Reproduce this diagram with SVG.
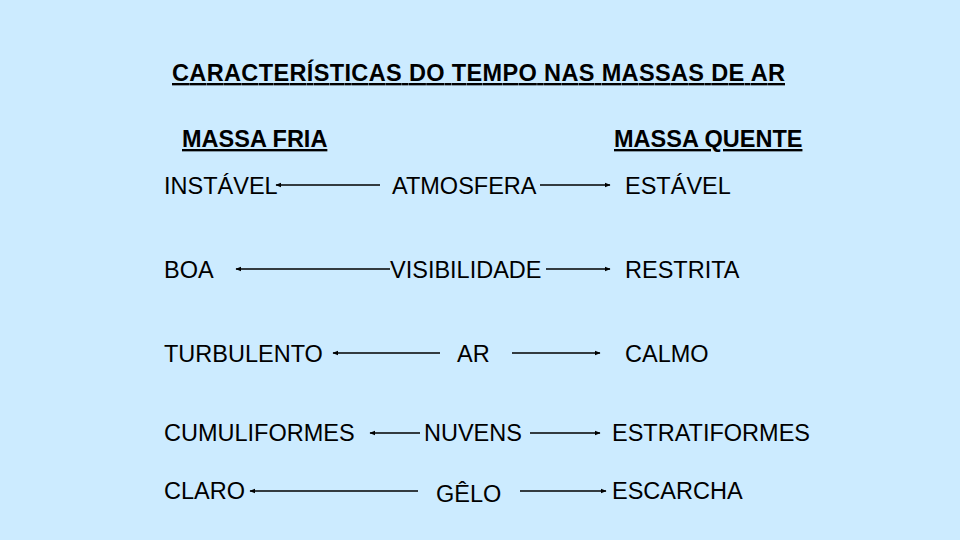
<svg xmlns="http://www.w3.org/2000/svg" width="960" height="540" viewBox="0 0 960 540">
<style>
.t{font-family:"Liberation Sans",Arial,sans-serif;font-size:23.5px;fill:#000}
.h{font-family:"Liberation Sans",Arial,sans-serif;font-size:23.5px;font-weight:bold;fill:#000;text-decoration:underline}
.c{stroke:#000;stroke-width:1.5;fill:none;marker-end:url(#a)}
</style>
<defs><marker id="a" viewBox="0 0 10 10" refX="9" refY="5" markerWidth="4" markerHeight="4" orient="auto"><path d="M0,1L10,5L0,9z" fill="#000"/></marker></defs>
<rect width="960" height="540" fill="#CCEBFF"/>
<text class="h" x="172" y="81" textLength="613">CARACTERÍSTICAS DO TEMPO NAS MASSAS DE AR</text>
<text class="h" x="182" y="147">MASSA FRIA</text>
<text class="h" x="614" y="147">MASSA QUENTE</text>
<g id="connectors">
<line class="c" x1="380" y1="185" x2="276" y2="185"/><line class="c" x1="540" y1="185" x2="610" y2="185"/>
<line class="c" x1="390" y1="269" x2="236" y2="269"/><line class="c" x1="546" y1="269" x2="610" y2="269"/>
<line class="c" x1="440" y1="353" x2="333" y2="353"/><line class="c" x1="512" y1="353" x2="600" y2="353"/>
<line class="c" x1="420" y1="433" x2="370" y2="433"/><line class="c" x1="530" y1="433" x2="600" y2="433"/>
<line class="c" x1="418" y1="491" x2="250" y2="491"/><line class="c" x1="520" y1="491" x2="606" y2="491"/>
</g>
<g id="n1"><text class="t" x="164" y="194">INSTÁVEL</text></g>
<g id="n2"><text class="t" x="392" y="194">ATMOSFERA</text></g>
<g id="n3"><text class="t" x="625" y="194">ESTÁVEL</text></g>
<g id="n4"><text class="t" x="164" y="278">BOA</text></g>
<g id="n5"><text class="t" x="390" y="278">VISIBILIDADE</text></g>
<g id="n6"><text class="t" x="625" y="278">RESTRITA</text></g>
<g id="n7"><text class="t" x="164" y="362">TURBULENTO</text></g>
<g id="n8"><text class="t" x="457" y="362">AR</text></g>
<g id="n9"><text class="t" x="625" y="362">CALMO</text></g>
<g id="n10"><text class="t" x="164" y="441">CUMULIFORMES</text></g>
<g id="n11"><text class="t" x="424" y="441">NUVENS</text></g>
<g id="n12"><text class="t" x="612" y="441">ESTRATIFORMES</text></g>
<g id="n13"><text class="t" x="164" y="499">CLARO</text></g>
<g id="n14"><text class="t" x="436" y="502">GÊLO</text></g>
<g id="n15"><text class="t" x="612" y="499">ESCARCHA</text></g>
</svg>
